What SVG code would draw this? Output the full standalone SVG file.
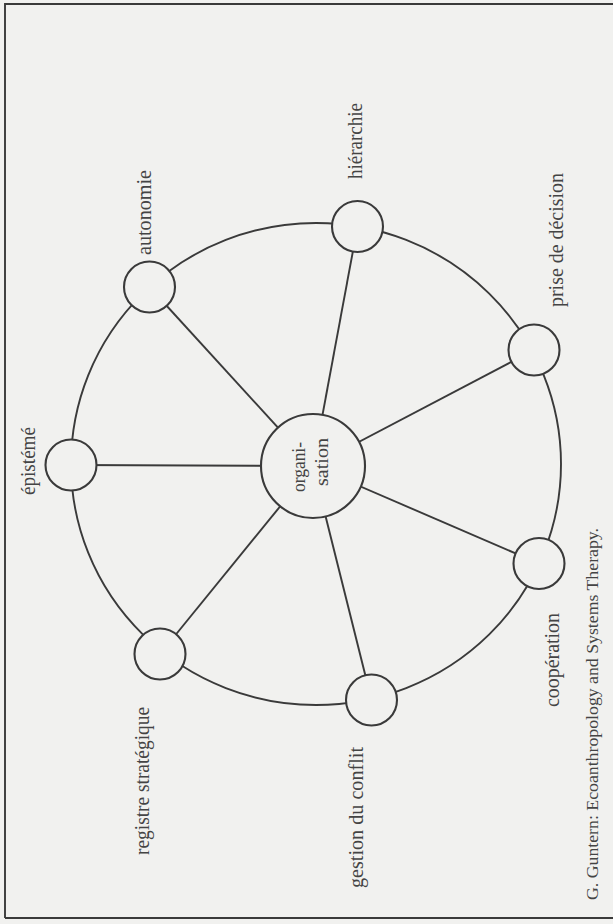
<svg xmlns="http://www.w3.org/2000/svg" width="613" height="924" viewBox="0 0 613 924">
<style>
.bg{fill:#f1f1ef}
.ln{stroke:#3a3a3a;stroke-width:1.9;fill:none}
.nd{stroke:#3a3a3a;stroke-width:2.1;fill:#f1f1ef}
.lb{font-family:"Liberation Serif","Times New Roman",serif;font-size:20px;fill:#444}
.ct{font-family:"Liberation Serif","Times New Roman",serif;font-size:19px;fill:#444}
.cit{font-family:"Liberation Serif","Times New Roman",serif;font-size:17px;fill:#444}
</style>
<rect class="bg" x="0" y="0" width="613" height="924"/>
<path class="ln" d="M5,918 L5,4 L613,4 M5,918 L613,918" stroke-width="1.5"/>
<g id="connectors">
<ellipse class="ln" cx="316" cy="464" rx="245" ry="241"/>
<line class="ln" x1="313" y1="466" x2="71" y2="465"/>
<line class="ln" x1="313" y1="466" x2="149.5" y2="287"/>
<line class="ln" x1="313" y1="466" x2="357.5" y2="226.5"/>
<line class="ln" x1="313" y1="466" x2="534" y2="350"/>
<line class="ln" x1="313" y1="466" x2="539" y2="563.5"/>
<line class="ln" x1="313" y1="466" x2="371.5" y2="700"/>
<line class="ln" x1="313" y1="466" x2="160" y2="654"/>
</g>
<g id="organisation">
<circle class="nd" cx="313" cy="466" r="52"/>
<text class="ct" transform="translate(305,492) rotate(-90)" textLength="50" lengthAdjust="spacingAndGlyphs">organi-</text>
<text class="ct" transform="translate(328,486) rotate(-90)" textLength="48" lengthAdjust="spacingAndGlyphs">sation</text>
</g>
<g id="episteme">
<circle class="nd" cx="71" cy="465" r="25.5"/>
<text class="lb" transform="translate(35,495) rotate(-90)" textLength="68" lengthAdjust="spacingAndGlyphs">épistémé</text>
</g>
<g id="autonomie">
<circle class="nd" cx="149.5" cy="287" r="25.5"/>
<text class="lb" transform="translate(151,255) rotate(-90)" textLength="85" lengthAdjust="spacingAndGlyphs">autonomie</text>
</g>
<g id="hierarchie">
<circle class="nd" cx="357.5" cy="226.5" r="25.5"/>
<text class="lb" transform="translate(362,179) rotate(-90)" textLength="76" lengthAdjust="spacingAndGlyphs">hiérarchie</text>
</g>
<g id="prise-de-decision">
<circle class="nd" cx="534" cy="350" r="25.5"/>
<text class="lb" transform="translate(563,307) rotate(-90)" textLength="134" lengthAdjust="spacingAndGlyphs">prise de décision</text>
</g>
<g id="cooperation">
<circle class="nd" cx="539" cy="563.5" r="25.5"/>
<text class="lb" transform="translate(559,707) rotate(-90)" textLength="94" lengthAdjust="spacingAndGlyphs">coopération</text>
</g>
<g id="gestion-du-conflit">
<circle class="nd" cx="371.5" cy="700" r="25.5"/>
<text class="lb" transform="translate(363,888) rotate(-90)" textLength="141" lengthAdjust="spacingAndGlyphs">gestion du conflit</text>
</g>
<g id="registre-strategique">
<circle class="nd" cx="160" cy="654" r="25.5"/>
<text class="lb" transform="translate(149,855) rotate(-90)" textLength="148" lengthAdjust="spacingAndGlyphs">registre stratégique</text>
</g>
<g id="citation">
<text class="cit" transform="translate(598,900) rotate(-90)" textLength="372" lengthAdjust="spacingAndGlyphs">G. Guntern: Ecoanthropology and Systems Therapy.</text>
</g>
</svg>
